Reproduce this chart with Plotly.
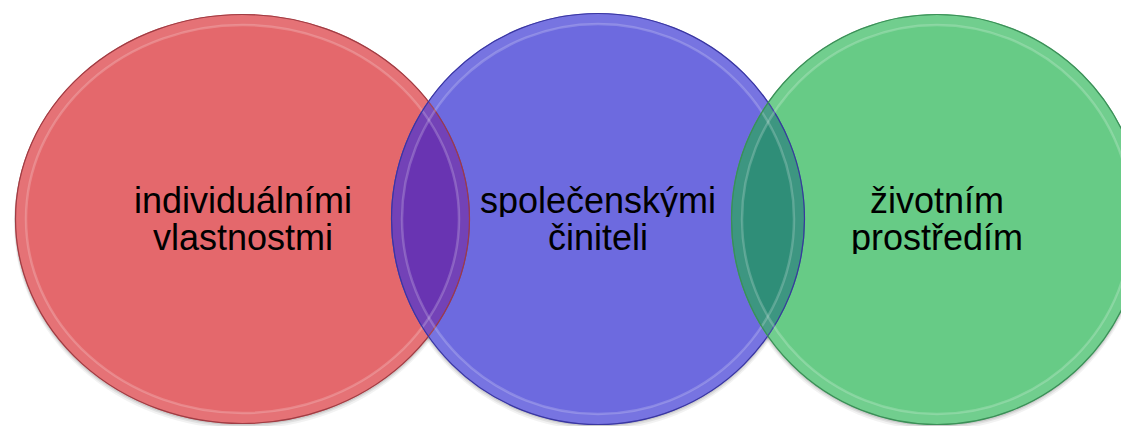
import numpy as np
import plotly.graph_objects as go

# ---- data ----
labels_line1 = ["individuálními", "společenskými", "životním"]
labels_line2 = ["vlastnostmi", "činiteli", "prostředím"]
fill_colors = ["#E4686C", "#6D6ADF", "#67CB86"]
edge_colors = ["#9E3D44", "#3A37A0", "#3C8F58"]
overlap_colors = ["#6934B2", "#2F8E78"]

# ---- layout geometry (pixel space) ----
W, H = 1129, 426
PAGE_OFFSET = 8  # default body margin of the html page
centers_x = [242.5, 598, 937]
centers_y = [219, 219, 219.5]
radii_x = [227.5, 207, 206]
radii_y = [205, 206, 205.5]
text_y1 = 200
text_y2 = 237

fig = go.Figure()
shapes = []

def ell(i, inset=0.0, dx=0.0, dy=0.0):
    return dict(x0=centers_x[i] - radii_x[i] + inset + dx, x1=centers_x[i] + radii_x[i] - inset + dx,
                y0=centers_y[i] - radii_y[i] + inset + dy, y1=centers_y[i] + radii_y[i] - inset + dy)

# soft shadows
for i in range(3):
    for k, op in [(4, 0.05), (2.5, 0.07), (1.2, 0.09)]:
        shapes.append(dict(type="circle", xref="x", yref="y", layer="below",
                           fillcolor=f"rgba(0,0,0,{op})", line=dict(width=0), **ell(i, -k * 0.3, 0, k)))

# main fills
for i in range(3):
    shapes.append(dict(type="circle", xref="x", yref="y", layer="above",
                       fillcolor=fill_colors[i], line=dict(width=0), **ell(i)))

def inside(px, py, j):
    return ((px - centers_x[j]) / radii_x[j]) ** 2 + ((py - centers_y[j]) / radii_y[j]) ** 2 <= 1

def lens_path(a, b):
    t = np.linspace(-np.pi, np.pi, 4000)
    ax = centers_x[a] + radii_x[a] * np.cos(t)
    ay = centers_y[a] + radii_y[a] * np.sin(t)
    ma = inside(ax, ay, b)
    order = np.argsort(t[ma])
    pa = list(zip(ax[ma][order], ay[ma][order]))
    t2 = np.linspace(0, 2 * np.pi, 4000)
    bx = centers_x[b] + radii_x[b] * np.cos(t2)
    by = centers_y[b] + radii_y[b] * np.sin(t2)
    mb = inside(bx, by, a)
    order2 = np.argsort(t2[mb])
    pb = list(zip(bx[mb][order2], by[mb][order2]))
    pts = pa + pb
    return "M " + " L ".join(f"{x:.2f},{y:.2f}" for x, y in pts) + " Z"

for k, (a, b) in enumerate([(0, 1), (1, 2)]):
    shapes.append(dict(type="path", xref="x", yref="y", layer="above",
                       path=lens_path(a, b), fillcolor=overlap_colors[k], line=dict(width=0)))

# glass rims and outlines
for i in range(3):
    shapes.append(dict(type="circle", xref="x", yref="y", layer="above",
                       fillcolor="rgba(0,0,0,0)", line=dict(color="rgba(255,255,255,0.07)", width=10), **ell(i, 6)))
    shapes.append(dict(type="circle", xref="x", yref="y", layer="above",
                       fillcolor="rgba(0,0,0,0)", line=dict(color="rgba(255,255,255,0.20)", width=2.5), **ell(i, 11)))
    shapes.append(dict(type="circle", xref="x", yref="y", layer="above",
                       fillcolor="rgba(0,0,0,0)", line=dict(color=edge_colors[i], width=1.2), **ell(i, 0.5)))

annotations = []
font_family = "Liberation Sans, Arial, sans-serif"
for i in range(3):
    for txt, yy in [(labels_line1[i], text_y1), (labels_line2[i], text_y2)]:
        annotations.append(dict(x=centers_x[i], y=yy, xref="x", yref="y", text=txt, showarrow=False,
                                height=34, borderpad=0, valign="middle",
                                font=dict(family=font_family, size=36, color="#000000")))

fig.update_layout(
    width=W, height=H,
    margin=dict(l=0, r=0, t=0, b=0),
    paper_bgcolor="white", plot_bgcolor="white",
    xaxis=dict(range=[PAGE_OFFSET, W + PAGE_OFFSET], visible=False, fixedrange=True),
    yaxis=dict(range=[H + PAGE_OFFSET, PAGE_OFFSET], visible=False, fixedrange=True),
    shapes=shapes, annotations=annotations, showlegend=False,
)
fig.write_html("out.html")
